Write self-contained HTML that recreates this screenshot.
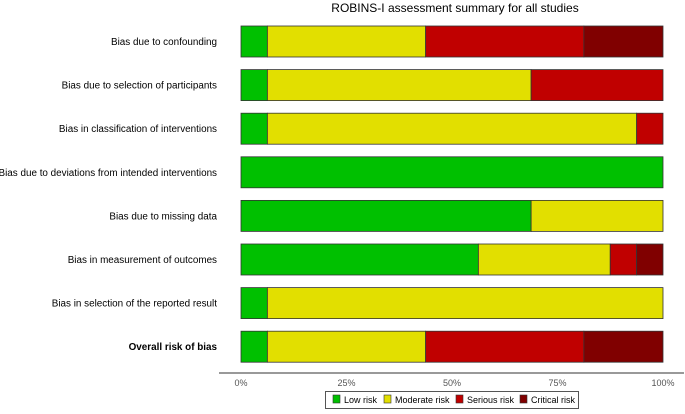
<!DOCTYPE html>
<html><head><meta charset="utf-8"><style>
body{margin:0;background:#fff;font-family:"Liberation Sans",sans-serif}
</style></head><body>
<svg width="685" height="409" viewBox="0 0 685 409" xmlns="http://www.w3.org/2000/svg" font-family="Liberation Sans, sans-serif">
<text x="455" y="12" font-size="12" text-anchor="middle" fill="#000">ROBINS-I assessment summary for all studies</text>
<g id="bars"></g>
<g id="labels"></g>
<line x1="219" y1="373" x2="684" y2="373" stroke="#333" stroke-width="1"/>
<g id="ticks"></g>
<g>
<rect x="325.5" y="391.5" width="253" height="17" fill="#fff" stroke="#555"/>
<g id="legend"></g>
</g>
</svg>
<script>
const categories=["Bias due to confounding","Bias due to selection of participants","Bias in classification of interventions","Bias due to deviations from intended interventions","Bias due to missing data","Bias in measurement of outcomes","Bias in selection of the reported result","Overall risk of bias"];
const lowRisk=[6.25,6.25,6.25,100,68.75,56.25,6.25,6.25];
const moderateRisk=[37.5,62.5,87.5,0,31.25,31.25,93.75,37.5];
const seriousRisk=[37.5,31.25,6.25,0,0,6.25,0,37.5];
const criticalRisk=[18.75,0,0,0,0,6.25,0,18.75];
const tickValues=[0,25,50,75,100];
const tickLabels=["0%","25%","50%","75%","100%"];
const seriesNames=["Low risk","Moderate risk","Serious risk","Critical risk"];
const colors=["#00c000","#e2df00","#c00000","#800000"];
const NS="http://www.w3.org/2000/svg";
const x=v=>241+v/100*422;
const yc=i=>41.5+i*43.6;
const bh=31;
const series=[lowRisk,moderateRisk,seriousRisk,criticalRisk];
const bars=document.getElementById('bars'),labels=document.getElementById('labels'),ticks=document.getElementById('ticks'),legend=document.getElementById('legend');
categories.forEach((c,i)=>{
  let cum=0;
  series.forEach((s,k)=>{
    if(s[i]>0){
      const r=document.createElementNS(NS,'rect');
      
      
      r.setAttribute('x',x(cum));r.setAttribute('width',x(cum+s[i])-x(cum));
      r.setAttribute('y',yc(i)-bh/2);r.setAttribute('height',bh);
      r.setAttribute('fill',colors[k]);r.setAttribute('stroke','#333');r.setAttribute('stroke-width','0.8');
      bars.appendChild(r);
    }
    cum+=s[i];
  });
  const t=document.createElementNS(NS,'text');
  
  
  t.setAttribute('x',217);t.setAttribute('y',yc(i)+3.5);t.setAttribute('text-anchor','end');
  t.setAttribute('font-size','9.9');
  if(i===categories.length-1)t.setAttribute('font-weight','bold');
  t.textContent=c;labels.appendChild(t);
});
tickValues.forEach((v,i)=>{
  const t=document.createElementNS(NS,'text');
  
  
  t.setAttribute('x',x(v));t.setAttribute('y',386);t.setAttribute('text-anchor','middle');
  t.setAttribute('font-size','9');t.setAttribute('fill','#555');
  t.textContent=tickLabels[i];ticks.appendChild(t);
});
const lx=[333,384,456,520];
seriesNames.forEach((n,k)=>{
  const r=document.createElementNS(NS,'rect');
  
  
  r.setAttribute('x',lx[k]);r.setAttribute('y',395);r.setAttribute('width',7);r.setAttribute('height',8);
  r.setAttribute('fill',colors[k]);r.setAttribute('stroke','#333');r.setAttribute('stroke-width','0.6');
  legend.appendChild(r);
  const t=document.createElementNS(NS,'text');
  
  
  t.setAttribute('x',lx[k]+11);t.setAttribute('y',403);t.setAttribute('font-size','9');
  t.textContent=n;legend.appendChild(t);
});
</script>
</body></html>
